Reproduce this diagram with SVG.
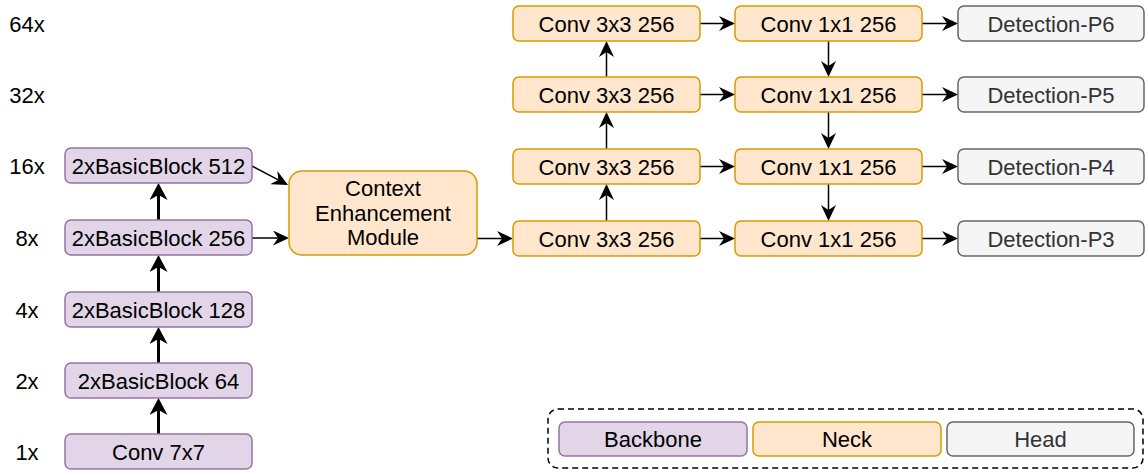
<svg xmlns="http://www.w3.org/2000/svg" width="1145" height="472" viewBox="0 0 1145 472">
<style>
text{font-family:"Liberation Sans",Arial,sans-serif;font-size:22px;text-anchor:middle;fill:#000}
.bb{fill:#e1d5e7;stroke:#9673a6;stroke-width:1.5}
.nk{fill:#ffe6cc;stroke:#d79b00;stroke-width:1.5}
.hd{fill:#f5f5f5;stroke:#666666;stroke-width:1.5}
.hdt{fill:#333333}
.thin{stroke:#000;stroke-width:1.5;fill:none;marker-end:url(#a)}
.thick{stroke:#000;stroke-width:3;fill:none;marker-end:url(#b)}
</style>
<defs>
<marker id="a" markerUnits="userSpaceOnUse" markerWidth="16" markerHeight="15" viewBox="0 0 16 15" refX="5" refY="7.5" orient="auto"><path d="M0,0 L16,7.5 L0,15 L5,7.5 z" fill="#000"/></marker>
<marker id="b" markerUnits="userSpaceOnUse" markerWidth="17" markerHeight="18" viewBox="0 0 17 18" refX="5" refY="9" orient="auto"><path d="M0,0 L17,9 L0,18 L5,9 z" fill="#000"/></marker>
</defs>
<g id="scale-labels">
<text x="27" y="31.5">64x</text>
<text x="27" y="102.5">32x</text>
<text x="27" y="173.5">16x</text>
<text x="27" y="246">8x</text>
<text x="27" y="317.5">4x</text>
<text x="27" y="388.5">2x</text>
<text x="27" y="459.5">1x</text>
</g>
<g id="connectors">
<line class="thick" x1="158.5" y1="434" x2="158.5" y2="410"/>
<line class="thick" x1="158.5" y1="363" x2="158.5" y2="339"/>
<line class="thick" x1="158.5" y1="292" x2="158.5" y2="267"/>
<line class="thick" x1="158.5" y1="220" x2="158.5" y2="195"/>
<line class="thin" x1="252" y1="166" x2="278.3" y2="179.9"/>
<line class="thin" x1="252" y1="238" x2="278" y2="238"/>
<line class="thin" x1="477" y1="238.5" x2="502" y2="238.5"/>
<line class="thin" x1="606.5" y1="221" x2="606.5" y2="195"/>
<line class="thin" x1="606.5" y1="149" x2="606.5" y2="123"/>
<line class="thin" x1="606.5" y1="77" x2="606.5" y2="52"/>
<line class="thin" x1="828.5" y1="41" x2="828.5" y2="66"/>
<line class="thin" x1="828.5" y1="112" x2="828.5" y2="138"/>
<line class="thin" x1="828.5" y1="184" x2="828.5" y2="210"/>
<line class="thin" x1="700" y1="23.5" x2="724" y2="23.5"/>
<line class="thin" x1="700" y1="94.5" x2="724" y2="94.5"/>
<line class="thin" x1="700" y1="166.5" x2="724" y2="166.5"/>
<line class="thin" x1="700" y1="238.5" x2="724" y2="238.5"/>
<line class="thin" x1="922" y1="23.5" x2="947" y2="23.5"/>
<line class="thin" x1="922" y1="94.5" x2="947" y2="94.5"/>
<line class="thin" x1="922" y1="166.5" x2="947" y2="166.5"/>
<line class="thin" x1="922" y1="238.5" x2="947" y2="238.5"/>
</g>
<g id="bb512"><rect class="bb" x="65" y="148" width="187" height="35" rx="6"/><text x="158.5" y="173.5">2xBasicBlock 512</text></g>
<g id="bb256"><rect class="bb" x="65" y="220" width="187" height="35" rx="6"/><text x="158.5" y="245.5">2xBasicBlock 256</text></g>
<g id="bb128"><rect class="bb" x="65" y="292" width="187" height="35" rx="6"/><text x="158.5" y="317.5">2xBasicBlock 128</text></g>
<g id="bb64"><rect class="bb" x="65" y="363" width="187" height="35" rx="6"/><text x="158.5" y="388.5">2xBasicBlock 64</text></g>
<g id="conv7"><rect class="bb" x="65" y="434" width="187" height="35" rx="6"/><text x="158.5" y="459.5">Conv 7x7</text></g>
<g id="cem"><rect class="nk" x="289" y="171" width="188" height="84" rx="13"/><text x="383" y="195.5">Context</text><text x="383" y="220.5">Enhancement</text><text x="383" y="245">Module</text></g>
<g id="c3-p6"><rect class="nk" x="513" y="6" width="187" height="35" rx="6"/><text x="606.5" y="31.5">Conv 3x3 256</text></g>
<g id="c3-p5"><rect class="nk" x="513" y="77" width="187" height="35" rx="6"/><text x="606.5" y="102.5">Conv 3x3 256</text></g>
<g id="c3-p4"><rect class="nk" x="513" y="149" width="187" height="35" rx="6"/><text x="606.5" y="174.5">Conv 3x3 256</text></g>
<g id="c3-p3"><rect class="nk" x="513" y="221" width="187" height="35" rx="6"/><text x="606.5" y="246.5">Conv 3x3 256</text></g>
<g id="c1-p6"><rect class="nk" x="735" y="6" width="187" height="35" rx="6"/><text x="828.5" y="31.5">Conv 1x1 256</text></g>
<g id="c1-p5"><rect class="nk" x="735" y="77" width="187" height="35" rx="6"/><text x="828.5" y="102.5">Conv 1x1 256</text></g>
<g id="c1-p4"><rect class="nk" x="735" y="149" width="187" height="35" rx="6"/><text x="828.5" y="174.5">Conv 1x1 256</text></g>
<g id="c1-p3"><rect class="nk" x="735" y="221" width="187" height="35" rx="6"/><text x="828.5" y="246.5">Conv 1x1 256</text></g>
<g id="det-p6"><rect class="hd" x="958" y="6" width="186" height="35" rx="6"/><text class="hdt" x="1051" y="31.5">Detection-P6</text></g>
<g id="det-p5"><rect class="hd" x="958" y="77" width="186" height="35" rx="6"/><text class="hdt" x="1051" y="102.5">Detection-P5</text></g>
<g id="det-p4"><rect class="hd" x="958" y="149" width="186" height="35" rx="6"/><text class="hdt" x="1051" y="174.5">Detection-P4</text></g>
<g id="det-p3"><rect class="hd" x="958" y="221" width="186" height="35" rx="6"/><text class="hdt" x="1051" y="246.5">Detection-P3</text></g>
<g id="legend">
<rect x="548" y="409" width="595" height="59" rx="10" fill="none" stroke="#000" stroke-width="1.5" stroke-dasharray="6 4"/>
<rect class="bb" x="559" y="422" width="188" height="34" rx="6"/><text x="653" y="447">Backbone</text>
<rect class="nk" x="753" y="422" width="188" height="34" rx="6"/><text x="847" y="447">Neck</text>
<rect class="hd" x="947" y="422" width="187" height="34" rx="6"/><text class="hdt" x="1040.5" y="447">Head</text>
</g>
</svg>
